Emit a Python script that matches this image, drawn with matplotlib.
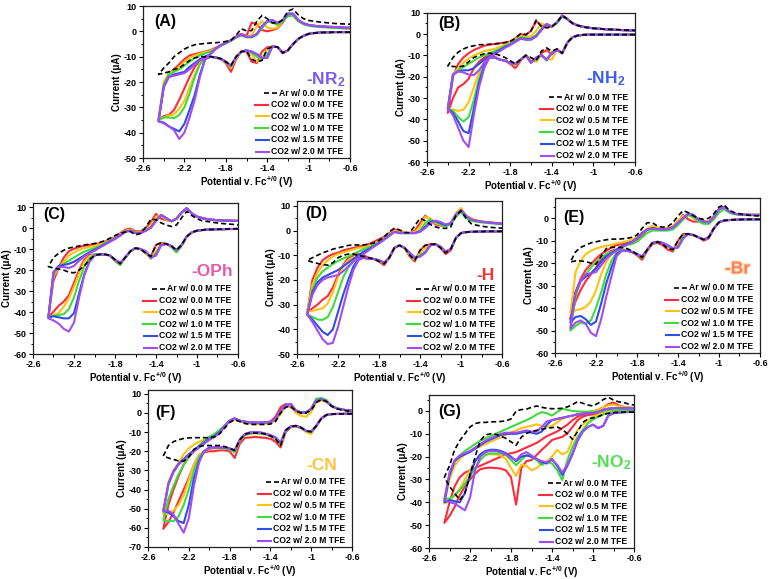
import matplotlib
matplotlib.use("Agg")
import matplotlib.pyplot as plt
import matplotlib.patheffects as pe
from matplotlib.lines import Line2D
from matplotlib.ticker import MultipleLocator

plt.rcParams["font.family"] = ["Liberation Sans", "DejaVu Sans"]
plt.rcParams["font.weight"] = "bold"
plt.rcParams["axes.labelweight"] = "bold"
plt.rcParams["axes.unicode_minus"] = False
plt.rcParams["mathtext.fontset"] = "custom"
plt.rcParams["mathtext.rm"] = "Liberation Sans:bold"
plt.rcParams["mathtext.bf"] = "Liberation Sans:bold"
plt.rcParams["mathtext.it"] = "Liberation Sans:bold"

# ---- potential grids (V vs Fc+/0), cathodic branch turns at the first value
E_45 = [-2.45, -2.40, -2.35, -2.30, -2.25, -2.20, -2.15, -2.10, -2.05, -2.00,
        -1.95, -1.90, -1.85, -1.80, -1.75, -1.70, -1.65, -1.60, -1.55, -1.50,
        -1.45, -1.40, -1.35, -1.30, -1.25, -1.20, -1.15, -1.10, -1.05, -1.00,
        -0.95, -0.90, -0.85, -0.80, -0.75, -0.70, -0.65, -0.60]
E_40 = E_45[1:]
E_50 = [-2.50] + E_45

SERIES_LABELS = ["Ar w/ 0.0 M TFE", "CO2 w/ 0.0 M TFE", "CO2 w/ 0.5 M TFE",
                 "CO2 w/ 1.0 M TFE", "CO2 w/ 1.5 M TFE", "CO2 w/ 2.0 M TFE"]
SERIES_COLORS = ["black", "#ff2b3a", "#ffc20e", "#3ddc3d", "#2e4ee6", "#a24cf5"]
XTICKS = [-2.6, -2.2, -1.8, -1.4, -1.0, -0.6]
XTICKLABELS = ["-2.6", "-2.2", "-1.8", "-1.4", "-1", "-0.6"]

# ---- (A) -NR2   current in uA, LO = cathodic sweep, UP = return sweep
A_AR_LO = [-17, -16.5, -16, -15, -14.5, -13, -11.5, -10.5, -10, -10, -10, -10.3, -10.8, -12, -13.5, -10, -8, -7.8, -11, -12,
           -11.5, -7, -6, -6.2, -8.5, -7.5, -5, -3, -1.8, -1, -0.7, -0.5, -0.4, -0.4, -0.3, -0.3, -0.3, -0.3]
A_AR_UP = [-17, -14.5, -12.5, -10, -8.5, -7, -6, -5.3, -5, -4.8, -4.6, -4.5, -4.3, -4, -3.5, -1.5, 1.0, 0.2, 0.3, 4,
           6.3, 5, 3.3, 3.3, 4.5, 8, 8.8, 6.5, 5, 4.3, 4, 3.7, 3.5, 3.3, 3.1, 3.0, 2.9, 2.8]
A_00_LO = [-35, -33.5, -33, -31, -27, -22.5, -18, -14, -11.5, -10, -10, -10.3, -10.8, -12.5, -16, -11, -8, -8, -12, -12.5,
           -8, -6.3, -6, -6.2, -8.7, -7.5, -5, -3, -1.8, -1, -0.7, -0.5, -0.4, -0.4, -0.3, -0.3, -0.3, -0.3]
A_00_UP = [-35, -22, -16.5, -15, -13, -11, -9.5, -9, -8.5, -8, -7.5, -6.5, -5.5, -4.5, -3.5, -2, -1.0, -1.8, 3.5, 2.8,
           0.5, 0, 0.5, 1.2, 3.5, 6.5, 6.3, 4, 3, 2.5, 2.2, 2, 1.8, 1.6, 1.4, 1.3, 1.2, 1.1]
A_05_LO = [-35, -34, -33.2, -32.8, -30.5, -27.5, -22, -17, -12.5, -10.5, -10, -10.3, -10.8, -12, -14.5, -10.5, -8, -7.8, -9, -12,
           -11, -7, -6, -6.2, -8.5, -7.5, -5, -3, -1.8, -1, -0.7, -0.5, -0.4, -0.4, -0.3, -0.3, -0.3, -0.3]
A_05_UP = [-35, -20, -16.5, -15.5, -14, -12, -10.5, -9.5, -8.8, -8.2, -7.8, -6.8, -5.6, -4.6, -3.6, -2.3, -1.4, -2.2, -1.5, 2,
           4, 1.5, 1.0, 1.5, 4, 6.5, 6.5, 4.2, 3, 2.5, 2.2, 2, 1.8, 1.7, 1.6, 1.5, 1.4, 1.3]
A_10_LO = [-35, -34, -34, -34.3, -33, -30, -24.5, -18, -13, -10.5, -10, -10.3, -10.8, -12, -14, -10, -8, -7.6, -8.5, -10,
           -11, -9, -6, -6.2, -8.5, -7.5, -5, -3, -1.8, -1, -0.7, -0.5, -0.4, -0.4, -0.3, -0.3, -0.3, -0.3]
A_10_UP = [-35, -21, -17, -16, -15, -13.5, -12, -10.5, -9.5, -8.7, -8, -7, -5.8, -4.8, -3.8, -2.5, -1.6, -2.4, -2.4, -1.4,
           1.2, 3.8, 3.5, 2.5, 4, 6, 6.2, 4, 2.8, 2.2, 1.9, 1.7, 1.6, 1.5, 1.4, 1.3, 1.2, 1.2]
A_15_LO = [-35.5, -36, -37.5, -38.5, -39.5, -36.5, -31, -25, -17, -11, -10, -10.3, -10.8, -12, -13.5, -10, -8, -7.5, -8, -9,
           -10.5, -10.5, -6, -6.2, -8.5, -7.5, -5, -3, -1.8, -1, -0.7, -0.5, -0.4, -0.4, -0.3, -0.3, -0.3, -0.3]
A_15_UP = [-35.5, -22, -18, -17, -16.5, -16, -14, -12.5, -11, -10, -9, -7, -5.5, -4.5, -3.5, -2.2, -1.3, -2.2, -2.2, -1,
           2, 4, 4.4, 3.3, 4.5, 7, 7, 4.5, 3.2, 2.5, 2.2, 2, 1.9, 1.8, 1.7, 1.6, 1.5, 1.5]
A_20_LO = [-35.5, -36.3, -37.5, -39, -42.5, -40, -34, -27, -18, -11, -10, -10.3, -10.8, -12, -13.5, -10, -8, -7.5, -8, -9,
           -10.5, -10.5, -6, -6.2, -8.5, -7.5, -5, -3, -1.8, -1, -0.7, -0.5, -0.4, -0.4, -0.3, -0.3, -0.3, -0.3]
A_20_UP = [-35.5, -22, -18, -17.5, -17, -16.5, -15, -13, -11.5, -10.5, -9, -7, -5.5, -4.5, -3.5, -2.2, -1.3, -2.2, -2.2, -1,
           2, 4, 4.4, 3.3, 4.5, 7, 7, 4.5, 3.2, 2.5, 2.2, 2, 1.9, 1.8, 1.7, 1.6, 1.5, 1.5]

# ---- (B) -NH2
B_AR_LO = [-15, -15.2, -15.4, -15, -13, -11, -10, -9.3, -9, -9.2, -10, -11, -12.5, -14, -12, -10, -11, -12.5, -8, -6.5,
           -8, -7, -9, -4, -1.5, -0.7, -0.4, -0.3, -0.3, -0.3, -0.3, -0.3, -0.3, -0.3, -0.3, -0.3, -0.3]
B_AR_UP = [-15, -11, -8.5, -7, -6, -5.5, -5, -5, -4.8, -4.6, -4.4, -4, -3.5, -2, 0.2, -0.3, 1.5, 6.5, 3.5, 3,
           3.4, 5.5, 8.7, 7, 5, 4, 3.4, 3, 2.7, 2.5, 2.3, 2.2, 2.1, 2, 1.9, 1.8, 1.7]
B_00_LO = [-37, -30, -25, -23.5, -21, -16, -13, -11, -10, -10.5, -12, -12.5, -14, -16, -12.5, -10, -12, -12.5, -9, -7.5,
           -9.5, -7, -9, -4, -1.5, -0.7, -0.4, -0.3, -0.3, -0.3, -0.3, -0.3, -0.3, -0.3, -0.3, -0.3, -0.3]
B_00_UP = [-37, -20, -14, -11, -9, -7.5, -6.5, -5.5, -5, -4.7, -4.3, -4, -3.5, -2, 0, -0.5, 1.5, 6, 4, 3,
           3.4, 5.5, 8.7, 7, 5, 4, 3.4, 3, 2.7, 2.5, 2.3, 2.1, 2, 1.9, 1.8, 1.7, 1.6]
B_05_LO = [-35, -35.5, -36, -35.5, -32, -25, -18, -13, -10.5, -11, -12, -12.5, -13.5, -14.5, -12, -10, -12, -13, -10, -11.5,
           -12, -7.5, -9, -4, -1.5, -0.7, -0.4, -0.3, -0.3, -0.3, -0.3, -0.3, -0.3, -0.3, -0.3, -0.3, -0.3]
B_05_UP = [-35, -19, -16, -13.5, -11.5, -10, -9, -8, -7.5, -7, -6, -5, -4, -2.5, -1, -1.5, -1, 1.5, 5, 3.5,
           3.5, 5.5, 8.5, 7, 5, 4, 3.4, 3, 2.7, 2.5, 2.3, 2.1, 2, 1.9, 1.8, 1.7, 1.6]
B_10_LO = [-35, -36, -39, -41, -39, -31, -21, -14, -11, -11, -12, -12.5, -13.5, -14, -12, -10, -13, -12, -9.5, -12.5,
           -8.5, -7.5, -9, -4, -1.5, -0.7, -0.4, -0.3, -0.3, -0.3, -0.3, -0.3, -0.3, -0.3, -0.3, -0.3, -0.3]
B_10_UP = [-35, -19, -17, -15.5, -14, -12.5, -11, -10, -9, -8, -7, -5.5, -4.5, -3, -1.5, -2, -2, -0.5, 2.5, 4.7,
           3.5, 5, 8, 7, 5, 4, 3.4, 3, 2.7, 2.5, 2.3, 2.1, 2, 1.9, 1.8, 1.7, 1.6]
B_15_LO = [-35, -37, -41, -45.5, -46.5, -35, -23, -15, -11, -11, -12, -12.5, -13.5, -14, -12, -10, -13.5, -11, -10, -12,
           -9, -7.5, -9, -4, -1.5, -0.7, -0.4, -0.3, -0.3, -0.3, -0.3, -0.3, -0.3, -0.3, -0.3, -0.3, -0.3]
B_15_UP = [-35, -19, -17.5, -17, -17, -16, -14, -12, -10.5, -9, -7.5, -6, -5, -3.5, -2, -2.5, -2.5, -1, 2, 4.7,
           3.5, 5.5, 8.7, 7, 5, 4, 3.4, 3, 2.7, 2.5, 2.3, 2.1, 2, 1.9, 1.8, 1.7, 1.6]
B_20_LO = [-35, -38, -44, -50, -53, -38, -25, -16, -11, -11, -12, -12.5, -13.5, -14, -12, -10, -13.5, -11, -10, -12,
           -9, -7.5, -9, -4, -1.5, -0.7, -0.4, -0.3, -0.3, -0.3, -0.3, -0.3, -0.3, -0.3, -0.3, -0.3, -0.3]
B_20_UP = [-35, -19, -17.5, -18, -19, -19.3, -17, -13.5, -11, -9.5, -8, -6.5, -5.2, -3.7, -2.2, -2.7, -2.7, -1.2, 1.8, 4.7,
           3.5, 5.5, 8.7, 7, 5, 4, 3.4, 3, 2.7, 2.5, 2.3, 2.1, 2, 1.9, 1.8, 1.7, 1.6]

# ---- (C) -OPh
C_AR_LO = [-18.3, -19, -19.5, -20, -21, -21.3, -20, -18, -15, -13, -12.5, -12.5, -13, -15, -17, -14, -11, -9.5, -10, -12,
           -13.5, -8, -7, -7.5, -8.5, -10.5, -8, -4, -2, -1.2, -0.9, -0.7, -0.6, -0.5, -0.5, -0.4, -0.4, -0.3]
C_AR_UP = [-18.3, -14, -12, -10.5, -9.5, -9, -8.5, -8, -7.7, -7.3, -6.8, -6, -4.8, -3.5, -2.5, -1.8, -1.6, -3.2, -2.5, 0.5,
           4.3, 4, 2.5, 1.5, 0.8, 1.5, 5, 8, 6, 4.5, 3.5, 3.2, 2.8, 2.5, 2.2, 2, 1.8, 1.5]
C_00_LO = [-42.5, -39.8, -37, -35, -32, -26, -20, -15, -13, -12.5, -12.5, -12.5, -13, -15.5, -17.5, -14, -11, -9.5, -10, -12,
           -13.5, -8, -7, -7.5, -8.5, -10.5, -8, -4, -2, -1.2, -0.9, -0.7, -0.6, -0.5, -0.5, -0.4, -0.4, -0.3]
C_00_UP = [-42.5, -25, -19, -14, -11, -9.8, -9, -8.4, -8, -7.6, -7.2, -6.4, -5.4, -4.2, -2.5, -0.7, -0.2, -1.5, -1.5, 0,
           3, 6.8, 4.5, 3.8, 3.3, 4.5, 7.5, 9.5, 7, 5.5, 4.8, 4.3, 4, 3.8, 3.7, 3.6, 3.5, 3.5]
C_05_LO = [-42.5, -41.5, -40.5, -37.5, -33.5, -28, -21.5, -16, -13.5, -12.5, -12.5, -12.5, -13, -15.5, -17.5, -14, -11, -9.5, -10, -12,
           -14.5, -11, -7.5, -7.5, -9, -11.5, -8.5, -4, -2, -1.2, -0.9, -0.7, -0.6, -0.5, -0.5, -0.4, -0.4, -0.3]
C_05_UP = [-42.5, -23, -19, -16, -13, -11.5, -10.3, -9.5, -9, -8.5, -7.7, -6.8, -5.7, -4.5, -3, -1.2, -0.7, -2, -2, -0.8,
           1.5, 5.5, 6, 4, 3.3, 4.5, 7.5, 9.5, 7, 5.5, 4.8, 4.3, 4, 3.8, 3.7, 3.6, 3.5, 3.5]
C_10_LO = [-42.5, -41.8, -41.4, -41, -38.5, -33, -25, -18.5, -14.5, -12.5, -12.5, -12.5, -13, -15.5, -17.5, -14, -11, -9.5, -10, -11.5,
           -14.5, -12, -8, -7.5, -9, -11.5, -8.5, -4, -2, -1.2, -0.9, -0.7, -0.6, -0.5, -0.5, -0.4, -0.4, -0.3]
C_10_UP = [-42.5, -22, -18.5, -17, -15.5, -14, -12.5, -11.2, -10.3, -9.5, -8.5, -7.3, -6, -4.8, -3.3, -1.5, -1, -2.2, -2.2, -1,
           0.5, 4, 6.3, 4.5, 3.3, 4.5, 7.5, 9.3, 7, 5.5, 4.8, 4.3, 4, 3.8, 3.7, 3.6, 3.5, 3.5]
C_15_LO = [-42.5, -42, -42.5, -43, -43, -40.5, -31, -22, -16, -13, -12.5, -12.5, -13, -15, -16.5, -14, -11, -9.5, -10, -11,
           -14, -13, -8, -7.5, -8.5, -10.5, -8, -4, -2, -1.2, -0.9, -0.7, -0.6, -0.5, -0.5, -0.4, -0.4, -0.3]
C_15_UP = [-42.5, -21, -18, -17.5, -17, -16, -14.5, -13, -11.5, -10.3, -9, -7.7, -6.3, -5, -3.5, -1.7, -1.2, -2.3, -2.3, -1.2,
           0.2, 3.5, 6.3, 4.8, 3.3, 4.5, 7.5, 9.5, 7, 5.5, 4.8, 4.3, 4, 3.8, 3.7, 3.6, 3.5, 3.5]
C_20_LO = [-43, -44, -45.5, -48, -49.3, -45, -33, -22.5, -16, -13, -12.5, -12.5, -13, -15, -16.5, -14, -11, -9.5, -10, -11,
           -14, -13, -8, -7.5, -8.5, -10.5, -8, -4, -2, -1.2, -0.9, -0.7, -0.6, -0.5, -0.5, -0.4, -0.4, -0.3]
C_20_UP = [-43, -21, -18.5, -18.5, -19, -18, -15.5, -13.5, -12, -10.8, -9.3, -7.9, -6.5, -5.2, -3.6, -1.8, -1.3, -2.4, -2.4, -1.2,
           0.2, 3.5, 6.3, 4.8, 3.3, 4.5, 7.5, 9.5, 7, 5.5, 4.8, 4.3, 4, 3.8, 3.7, 3.6, 3.5, 3.5]

# ---- (D) -H
D_AR_LO = [-12, -12.8, -13.3, -13.8, -14, -13, -11, -10, -9.5, -9.5, -10, -10.5, -11, -11.5, -12.5, -13.5, -11, -7, -6, -7,
           -10, -12, -8, -6, -5.5, -5.5, -7, -9, -7.5, -3, -1, -0.6, -0.5, -0.4, -0.4, -0.3, -0.3, -0.3, -0.3]
D_AR_UP = [-12, -11, -10, -9, -8.3, -7.5, -7, -6.5, -6, -5.8, -5.8, -5.8, -5.5, -5, -4, -2.5, -0.5, 1, 0.3, -0.8,
           -0.8, 2, 5, 4, 2.5, 1.5, 1, 0.9, 1.5, 6, 8, 5, 2.8, 2.2, 1.8, 1.5, 1.3, 1.1, 1.0]
D_00_LO = [-33, -31.5, -30, -28, -26.5, -23, -18, -14, -11, -10, -9.5, -10, -11, -11.5, -12.5, -14, -11, -7, -6, -7,
           -10.5, -12.5, -8, -6, -5.5, -5.5, -7, -9.5, -8, -3, -1, -0.6, -0.5, -0.4, -0.4, -0.3, -0.3, -0.3, -0.3]
D_00_UP = [-33, -20, -15, -12, -10.5, -9.5, -9, -8, -7.5, -7, -6.5, -6, -5.5, -4.5, -3.5, -2.5, -1, 0.5, 0, -0.8,
           -1, 0, 3, 6, 4.5, 2.5, 2, 2, 3, 6.5, 8.5, 5.5, 4.5, 4, 3.6, 3.4, 3.2, 3, 2.8]
D_05_LO = [-33, -32.5, -32, -31.5, -29.5, -25, -19, -14.5, -12, -11, -10.5, -11, -11.5, -11.5, -12, -13.5, -11, -7, -6, -7,
           -10, -12, -9, -7, -6, -5.5, -6.5, -8.5, -7.5, -3, -1, -0.6, -0.5, -0.4, -0.4, -0.3, -0.3, -0.3, -0.3]
D_05_UP = [-33, -22, -17, -14, -12, -10.5, -9.5, -8.8, -8.2, -7.6, -7, -6.8, -6.2, -5.3, -4.2, -3, -1.5, 0, -0.5, -0.8,
           -1, -0.5, 1.5, 5.5, 5, 3, 2.3, 2, 3, 7, 9.2, 6, 5, 4.2, 3.8, 3.5, 3.3, 3.1, 2.9]
D_10_LO = [-34, -35, -36, -36.2, -35, -31, -25, -19, -15, -12.5, -11, -11, -11.5, -11.5, -12, -13, -11, -7, -6, -7,
           -9.5, -11.5, -10, -8.5, -6, -5.5, -6.5, -8.5, -7.5, -3, -1, -0.6, -0.5, -0.4, -0.4, -0.3, -0.3, -0.3, -0.3]
D_10_UP = [-34, -24, -19, -16.5, -15, -13.5, -12.3, -11.3, -10.5, -9.5, -8.5, -7.5, -6.8, -5.8, -4.6, -3.3, -1.8, -0.5, -1, -1,
           -1, -1, 0, 3, 4.5, 3.5, 2.5, 1.8, 2.5, 5.5, 7.5, 5, 4, 3.6, 3.3, 3.1, 2.9, 2.7, 2.6]
D_15_LO = [-34, -36, -38.5, -41, -42.3, -40, -33, -26, -20, -14.5, -11.5, -11, -11.5, -11.5, -12, -13, -11, -7, -6, -7,
           -9, -11, -10.5, -9, -6, -5.5, -6.5, -8.5, -7.5, -3, -1, -0.6, -0.5, -0.4, -0.4, -0.3, -0.3, -0.3, -0.3]
D_15_UP = [-34, -25, -21, -19, -18, -17, -16, -14.5, -13, -11.5, -10, -8.5, -7.5, -6.3, -5, -3.5, -2, -0.5, -1, -1,
           -1, -1, -0.3, 1.5, 3.5, 4, 3, 2.2, 3, 6.5, 8.3, 6, 4.5, 4, 3.6, 3.4, 3.2, 3, 2.8]
D_20_LO = [-34, -37, -40.5, -44, -46, -45.5, -39, -31, -23, -16, -12, -11, -11.5, -11.5, -12, -13, -11, -7, -6, -7,
           -9, -11, -10.5, -9, -6, -5.5, -6.5, -8.5, -7.5, -3, -1, -0.6, -0.5, -0.4, -0.4, -0.3, -0.3, -0.3, -0.3]
D_20_UP = [-34, -26, -22, -20, -19, -18.5, -18, -16.5, -14.5, -12.5, -11, -9.5, -8, -6.5, -5.2, -3.7, -2.2, -0.5, -1, -1,
           -1, -1, -0.5, 1, 3, 4, 3.5, 2.5, 3, 6.5, 8.3, 6, 4.5, 4, 3.6, 3.4, 3.2, 3, 2.8]

# ---- (E) -Br
E_AR_LO = [-19.5, -19, -19, -19.3, -20, -20.5, -17, -13.5, -13, -13, -13, -13.5, -14.5, -16, -17.5, -14, -11, -10.5, -11.5, -13.5,
           -14, -10, -7, -7, -7.5, -8.5, -9.5, -8.5, -4.5, -1.8, -1, -0.8, -0.7, -0.6, -0.5, -0.5, -0.5, -0.5]
E_AR_UP = [-19.5, -15, -13, -12, -11, -10.5, -10, -9.6, -9.3, -9.3, -9.2, -9, -8.5, -7.5, -4.5, -2, -2, -3.5, -4, -3.7,
           -2, 1, 3.4, 2.5, 1, 0, -0.5, 0, 2, 5, 6, 3.5, 2.5, 2, 1.5, 1.3, 1.1, 1]
E_00_LO = [-45, -37, -32, -28, -25, -22, -18.5, -16, -14.5, -14, -13.8, -14.3, -15, -16.5, -18.5, -14.5, -11.5, -11, -12, -14,
           -14.8, -10, -7, -7, -7.5, -8.5, -10, -9, -4.5, -1.8, -1, -0.8, -0.7, -0.6, -0.5, -0.5, -0.5, -0.5]
E_00_UP = [-45, -33, -27, -23, -20.5, -18, -16, -14.5, -13, -12, -11.5, -11, -10.5, -9.5, -7.5, -5, -4, -4.5, -5, -5,
           -4, -1.5, 1.5, -0.5, -1.5, -1.5, -1.5, -1.5, 1, 4, 5, 3, 2, 1.7, 1.6, 1.5, 1.5, 1.5]
E_05_LO = [-42.5, -41, -40.5, -39.5, -37, -32, -25, -19.5, -16, -14.5, -13.8, -14.3, -15, -16, -17.5, -14, -11, -10.5, -11, -12.5,
           -14, -12, -8, -7, -7.5, -8.5, -9.5, -8.5, -4.5, -1.8, -1, -0.8, -0.7, -0.6, -0.5, -0.5, -0.5, -0.5]
E_05_UP = [-42.5, -24, -19, -16, -14.5, -13.5, -12.8, -12.3, -11.8, -11.2, -10.8, -10.3, -9.5, -8.5, -6.5, -4.5, -3.5, -4, -4.3, -4.3,
           -3.5, -1, 1, 1.5, 0, -1, -1.5, -1.5, 1, 4, 5, 3, 2, 1.7, 1.6, 1.5, 1.5, 1.5]
E_10_LO = [-50, -48, -46.5, -47, -45.5, -40, -33, -25, -19, -15.5, -14, -14.3, -15, -16, -17.5, -14, -11, -10.5, -11, -12.5,
           -14, -12.5, -8, -7, -7.5, -8.5, -9.5, -8.5, -4.5, -1.8, -1, -0.8, -0.7, -0.6, -0.5, -0.5, -0.5, -0.5]
E_10_UP = [-50, -35, -28, -25, -22, -19.5, -17.5, -16, -15, -14, -13, -12, -11.5, -10.5, -8.5, -6.5, -5.5, -5.5, -5.5, -5.5,
           -5, -3, -0.5, 1.5, 0.5, -1.5, -2.5, -2.5, -0.5, 2.5, 4, 2.5, 1.8, 1.5, 1.4, 1.3, 1.3, 1.3]
E_15_LO = [-46.5, -44, -43.5, -45, -47.5, -46, -38, -29, -22, -16, -14.5, -14.5, -15, -16, -17, -14, -11, -10.5, -11, -12,
           -13.5, -13, -9, -7, -7.5, -8.5, -9.5, -8.5, -4.5, -1.8, -1, -0.8, -0.7, -0.6, -0.5, -0.5, -0.5, -0.5]
E_15_UP = [-46.5, -33, -28, -26, -24.5, -22.5, -19.5, -17, -15.5, -14, -12.5, -11.5, -10.5, -9, -6.5, -5, -4.5, -4.8, -5, -4.8,
           -4, -2, 0, 2, 1.5, -0.5, -1.5, -1.8, 0.5, 4, 5, 3, 2, 1.7, 1.6, 1.5, 1.5, 1.5]
E_20_LO = [-49, -46.5, -45.5, -47, -51, -52.5, -45, -35, -26, -17, -14.5, -14.5, -15, -16, -17, -14, -11, -10.5, -11, -12,
           -13.5, -13, -9, -7, -7.5, -8.5, -9.5, -8.5, -4.5, -1.8, -1, -0.8, -0.7, -0.6, -0.5, -0.5, -0.5, -0.5]
E_20_UP = [-49, -33, -28, -25, -24.5, -24, -21, -18, -16, -14.5, -13, -11.8, -10.8, -9.2, -6.8, -5.2, -4.6, -4.9, -5, -4.8,
           -4, -2, 0, 2.2, 1.5, -0.5, -1.5, -1.8, 0.5, 4, 5, 3, 2, 1.7, 1.6, 1.5, 1.5, 1.5]

# ---- (F) -CN
F_AR_LO = [-22.5, -23.5, -24.3, -25, -25.2, -23, -19, -17.5, -17, -17, -17, -17, -17.5, -18.5, -19.5, -14, -11, -10.5, -10.5, -10.5,
           -11, -12, -13.5, -17, -9, -7, -6.7, -7.6, -9.3, -9.8, -6.7, -2.8, -1, -0.6, -0.5, -0.5, -0.4, -0.4]
F_AR_UP = [-22.5, -17, -15, -14, -13.3, -13, -12.9, -12.9, -12.9, -12.9, -12.5, -11, -8, -5, -3.5, -4.5, -5.5, -6, -6, -6,
           -6, -5.8, -4.5, 0, 3, 3.5, 1, 0, 0, 1.5, 5.5, 7, 6, 3.5, 2.2, 1.6, 1.1, 0.8]
F_00_LO = [-60.5, -57, -52, -46, -40, -34, -27, -22, -20.5, -20, -20, -19.5, -19.5, -20, -23.5, -16, -13, -12.8, -12.5, -12.8,
           -13, -13.5, -15, -18, -10, -7.5, -7, -8, -9.5, -10, -6.8, -2.8, -1, -0.6, -0.5, -0.5, -0.4, -0.4]
F_00_UP = [-60.5, -48, -40, -33, -27, -23, -20, -18, -16, -14, -12.5, -10.5, -7, -4.2, -3, -4.2, -4.7, -5, -5.2, -5.2,
           -5, -4.5, -2, 3, 4.7, 3, 0.5, 0, 0.3, 2, 6.5, 7.2, 6, 3.6, 2.4, 1.8, 1.4, 1.2]
F_05_LO = [-53, -52.5, -51, -48, -43, -35, -27, -22, -20, -19, -18.5, -18.5, -18.5, -19, -20.5, -14.5, -11.5, -10.8, -10.5, -10.8,
           -11.2, -12, -13.5, -16.5, -9.5, -7.2, -6.8, -7.8, -10, -11, -7, -2.8, -1, -0.6, -0.5, -0.5, -0.4, -0.4]
F_05_UP = [-53, -36, -30, -26, -21.5, -18.5, -16.5, -15, -14, -13, -12, -10, -7, -4.5, -3.2, -4.5, -5, -5.5, -5.8, -5.8,
           -5.6, -5.2, -4, -0.5, 3.5, 4.2, 0, -1.5, -2, 0.5, 5.5, 6.5, 5.8, 3.5, 2.3, 1.7, 1.3, 1.1]
F_10_LO = [-56, -56.5, -56.5, -54, -48, -40, -30, -23, -20, -18.5, -18, -18, -18.5, -19, -20.5, -14.5, -11.5, -10.8, -10.5, -10.8,
           -11.2, -12, -13.5, -16.5, -9.5, -7.2, -6.8, -7.8, -9.5, -10, -6.8, -2.8, -1, -0.6, -0.5, -0.5, -0.4, -0.4]
F_10_UP = [-56, -45, -38, -32, -27, -23, -20, -17, -14.5, -12.5, -11, -9, -6.5, -4, -3, -4.2, -4.8, -5.2, -5.3, -5.3,
           -5.2, -4.8, -3.5, 0.5, 3.8, 4.5, 1.5, 0.5, 0.5, 2.5, 7.5, 7.8, 6.8, 4, 2.6, 1.9, 1.5, 1.3]
F_15_LO = [-51, -52, -54, -56.5, -57.5, -48, -34, -25, -20, -18, -18, -18, -18, -18.5, -19.5, -14, -11, -10.2, -10, -10.2,
           -10.8, -11.6, -12.8, -15.5, -9, -7, -6.7, -7.6, -9.3, -9.8, -6.7, -2.8, -1, -0.6, -0.5, -0.5, -0.4, -0.4]
F_15_UP = [-51, -37, -30.5, -26.5, -24, -21.5, -19.5, -17.5, -15.5, -13.5, -12, -10, -7, -4, -2.8, -4, -4.5, -4.9, -5, -5,
           -4.9, -4.6, -3.2, 1.2, 4.2, 4.7, 1.2, 0.3, 0.3, 2, 6.5, 7.2, 6, 3.6, 2.4, 1.8, 1.4, 1.2]
F_20_LO = [-51.5, -51, -53, -58, -62.5, -55, -38, -26, -20, -18.5, -18, -18, -18, -18.5, -19.5, -14, -11, -10.2, -10, -10.2,
           -10.8, -11.6, -12.8, -15.5, -9, -7, -6.7, -7.6, -9.3, -9.8, -6.7, -2.8, -1, -0.6, -0.5, -0.5, -0.4, -0.4]
F_20_UP = [-51.5, -37.5, -31, -27, -24.5, -22, -20, -18, -16, -14, -12.5, -10.5, -7, -4, -2.8, -4, -4.5, -4.9, -5, -5,
           -4.9, -4.6, -3.2, 1.2, 4.2, 4.7, 1.2, 0.3, 0.3, 2, 6.5, 7.2, 6, 3.6, 2.4, 1.8, 1.4, 1.2]

# ---- (G) -NO2
G_AR_LO = [-29, -33, -36, -39, -36, -28, -20, -13, -10.5, -10, -10.2, -11, -12, -13.5, -15, -11.5, -9.8, -9, -8.5, -8,
           -7.6, -7.3, -7, -8, -10, -12.4, -9, -5, -3.5, -3, -2.5, -1.5, -1, -0.7, -0.6, -0.5, -0.5, -0.5]
G_AR_UP = [-29, -24, -17, -13, -10, -7, -5.5, -5, -5, -4.8, -4.7, -4.6, -4.3, -3.5, 0, 0.6, 0.8, 1.6, 2.2, 1.6,
           1.2, 1.0, 1.0, 1.2, 1.8, 2.8, 4.1, 3.4, 2.6, 2.2, 3.4, 5, 6, 4.8, 4, 3.7, 3, 2.6]
G_00_LO = [-49, -46, -42, -37, -33, -30, -27.5, -25.5, -25, -24.8, -25, -25.2, -26, -29, -41, -25, -22, -21.5, -19.3, -17,
           -15, -12.7, -12, -11.3, -9.8, -7, -4, -2.5, -1.8, -1.5, -1.2, -1, -0.8, -0.6, -0.5, -0.4, -0.3, -0.3]
G_00_UP = [-49, -40, -33, -29, -27, -26, -25, -24, -23, -22, -21, -20, -19, -18.5, -18, -17, -16, -15, -14, -12.5,
           -11, -10, -9, -7.5, -6, -4, -2.5, -1.5, -0.8, -0.2, 0.5, 1.5, 3, 3.7, 2.5, 1.8, 1.5, 1.3]
G_05_LO = [-40.5, -39.5, -37, -34, -30, -26, -22, -19, -18.5, -19, -19, -19.5, -21, -25, -28.5, -23.5, -24, -26, -25, -23,
           -22, -20, -17, -19, -17.9, -12.7, -8.3, -6, -4, -2.5, -1.5, -1, -0.7, -0.5, -0.4, -0.3, -0.3, -0.3]
G_05_UP = [-40.5, -30, -24, -21, -19, -17.5, -16.5, -15.5, -14.5, -13.5, -12.5, -11.5, -10.5, -9.5, -8.5, -7.5, -7, -6.5, -5.8, -6.5,
           -7, -6.5, -5, -3.5, -2.5, -2, -1.5, -1, -0.5, 0, 0.5, 1.5, 2.5, 2.8, 2.2, 1.8, 1.5, 1.3]
G_10_LO = [-38.5, -38.3, -36.9, -34.7, -31.8, -28.8, -25.2, -21.5, -19.3, -18.6, -18.6, -18.6, -19.3, -21.5, -23.7, -21.5, -19.3, -20, -21.5, -23.7,
           -22.2, -23, -25.9, -30.3, -21.5, -15.7, -11.3, -8.3, -5.4, -3.7, -2.5, -1.5, -1, -0.7, -0.6, -0.5, -0.5, -0.5]
G_10_UP = [-38.5, -28, -22, -19.5, -17.5, -16, -14.5, -13, -12, -11, -10, -9, -8, -7, -6, -5, -4, -3, -1.5, -0.5,
           -1, -2, -0.5, 1, 0.5, 0, -0.2, -0.3, -0.3, -0.3, -0.2, 0, 0.4, 0.4, 0.4, 0.4, 0.4, 0.4]
G_15_LO = [-40, -39, -39.5, -40, -36, -28, -22, -19, -17.5, -17, -17, -17.5, -18.5, -20, -22, -20, -19.5, -20, -21, -22.5,
           -23, -21, -24, -28, -24, -19, -13, -9, -7, -6, -7.5, -6.5, -2, -1, -0.7, -0.5, -0.4, -0.3]
G_15_UP = [-40, -28, -22, -20, -19, -18, -16.5, -15, -13.5, -12.5, -11.5, -10.5, -10, -10, -10, -9.5, -9, -9.5, -10, -9,
           -6, -4, -3.5, -3, -2.5, -2, -1.5, -1.2, -1, -1, -0.5, 0.5, 1, 1.3, 1.3, 1.2, 1.2, 1.2]
G_20_LO = [-39, -40, -40.5, -42, -43.5, -38, -26, -20, -18, -17.5, -17.5, -18, -19, -20.5, -21.5, -19, -18, -19.5, -21, -22,
           -22.5, -21.5, -23.5, -27, -23.5, -18.5, -12.5, -9, -7, -6, -7.5, -6.5, -2, -1, -0.7, -0.5, -0.4, -0.3]
G_20_UP = [-39, -27, -21.5, -19.5, -18.5, -17.5, -16, -14.5, -13, -12, -11, -10, -9.5, -9.5, -9.5, -9, -8.5, -9, -9, -7,
           -4.5, -4, -3.5, -3, -2.5, -2, -1.5, -1.2, -1, -1, -0.5, 0.5, 1, 1.3, 1.3, 1.2, 1.2, 1.2]

PANELS = [
    dict(tag="(A)", sub="-NR$_\\mathbf{2}$", subcol="#7b5cf0", E=E_45, ylim=(-50, 10),
         box=(143, 6, 350, 158), tagpos=(0.053, 0.897), subpos=(0.976, 0.515),
         curves=[(A_AR_LO, A_AR_UP), (A_00_LO, A_00_UP), (A_05_LO, A_05_UP),
                 (A_10_LO, A_10_UP), (A_15_LO, A_15_UP), (A_20_LO, A_20_UP)]),
    dict(tag="(B)", sub="-NH$_\\mathbf{2}$", subcol="#3d5fe6", E=E_40, ylim=(-60, 10),
         box=(427, 12.7, 635, 162), tagpos=(0.053, 0.93), subpos=(0.952, 0.555),
         curves=[(B_AR_LO, B_AR_UP), (B_00_LO, B_00_UP), (B_05_LO, B_05_UP),
                 (B_10_LO, B_10_UP), (B_15_LO, B_15_UP), (B_20_LO, B_20_UP)]),
    dict(tag="(C)", sub="-OPh", subcol="#e85aa5", E=E_45, ylim=(-60, 12),
         box=(33, 203, 238, 354), tagpos=(0.049, 0.925), subpos=(0.976, 0.545),
         curves=[(C_AR_LO, C_AR_UP), (C_00_LO, C_00_UP), (C_05_LO, C_05_UP),
                 (C_10_LO, C_10_UP), (C_15_LO, C_15_UP), (C_20_LO, C_20_UP)]),
    dict(tag="(D)", sub="-H", subcol="#ff3030", E=E_50, ylim=(-50, 12),
         box=(297, 201, 502, 354), tagpos=(0.039, 0.92), subpos=(0.966, 0.511),
         curves=[(D_AR_LO, D_AR_UP), (D_00_LO, D_00_UP), (D_05_LO, D_05_UP),
                 (D_10_LO, D_10_UP), (D_15_LO, D_15_UP), (D_20_LO, D_20_UP)]),
    dict(tag="(E)", sub="-Br", subcol="#ff7b6b", E=E_45, ylim=(-60, 9),
         box=(555, 198, 760, 353), tagpos=(0.039, 0.874), subpos=(0.951, 0.542),
         curves=[(E_AR_LO, E_AR_UP), (E_00_LO, E_00_UP), (E_05_LO, E_05_UP),
                 (E_10_LO, E_10_UP), (E_15_LO, E_15_UP), (E_20_LO, E_20_UP)]),
    dict(tag="(F)", sub="-CN", subcol="#ffc33d", E=E_45, ylim=(-70, 12),
         box=(148, 390, 352, 547), tagpos=(0.034, 0.857), subpos=(0.925, 0.522),
         curves=[(F_AR_LO, F_AR_UP), (F_00_LO, F_00_UP), (F_05_LO, F_05_UP),
                 (F_10_LO, F_10_UP), (F_15_LO, F_15_UP), (F_20_LO, F_20_UP)]),
    dict(tag="(G)", sub="-NO$_\\mathbf{2}$", subcol="#4fe04f", E=E_45, ylim=(-60, 7),
         box=(429, 395, 634, 548), tagpos=(0.044, 0.895), subpos=(0.989, 0.555),
         curves=[(G_AR_LO, G_AR_UP), (G_00_LO, G_00_UP), (G_05_LO, G_05_UP),
                 (G_10_LO, G_10_UP), (G_15_LO, G_15_UP), (G_20_LO, G_20_UP)]),
]

W, H = 770, 579
fig = plt.figure(figsize=(W / 100, H / 100), dpi=100)
fig.patch.set_facecolor("white")

legend_items = []
for p in PANELS:
    l, t, r, b = p["box"]
    ax = fig.add_axes([l / W, 1 - b / H, (r - l) / W, (b - t) / H])
    E = p["E"]
    # colored CO2 runs first, argon reference on top
    for k in [1, 2, 3, 4, 5, 0]:
        lo, up = p["curves"][k]
        assert len(lo) == len(E) and len(up) == len(E), (p["tag"], k)
        x = E[::-1] + E
        y = lo[::-1] + up
        if k == 0:
            ax.plot(x, y, color="black", lw=1.2, ls=(0, (3, 1.8)), zorder=4)
        else:
            ax.plot(x, y, color=SERIES_COLORS[k], lw=1.5, zorder=3,
                    solid_joinstyle="round")

    ax.set_xlim(-2.6, -0.6)
    ax.set_ylim(*p["ylim"])
    ax.set_xticks(XTICKS)
    ax.set_xticklabels(XTICKLABELS)
    ax.xaxis.set_minor_locator(MultipleLocator(0.2))
    ax.yaxis.set_major_locator(MultipleLocator(10))
    ax.yaxis.set_minor_locator(MultipleLocator(5))
    ax.tick_params(which="major", direction="out", length=3, width=0.8,
                   labelsize=6.5, pad=1.5)
    ax.tick_params(which="minor", direction="out", length=1.8, width=0.7)
    for s in ax.spines.values():
        s.set_linewidth(0.9)
        s.set_color("#222222")

    ax.set_ylabel("Current (\u03bcA)", fontsize=7, labelpad=1.5)
    ax.set_xlabel("Potential v. Fc$^{\\mathbf{+/0}}$ (V)", fontsize=7, labelpad=0.6)

    ax.text(p["tagpos"][0], p["tagpos"][1], p["tag"], transform=ax.transAxes,
            fontsize=11.5, fontweight="bold", ha="left", va="center")
    st = ax.text(p["subpos"][0], p["subpos"][1], p["sub"], transform=ax.transAxes,
                 fontsize=12.5, fontweight="bold", color=p["subcol"],
                 ha="right", va="center")
    if p["tag"] == "(E)":
        st.set_path_effects([pe.withStroke(linewidth=1.6, foreground="#ffe3a0")])

    h_px = b - t
    for i, lab in enumerate(SERIES_LABELS):
        yf = (6.5 + 11.7 * (5 - i)) / h_px
        txt = ax.text(0.967, yf, lab, transform=ax.transAxes, ha="right",
                      va="center", fontsize=6.2, fontweight="bold")
        legend_items.append((ax, txt, i, yf))

# legend handles sit just left of each right-aligned entry
fig.canvas.draw()
for ax, txt, i, yf in legend_items:
    bb = txt.get_window_extent()
    inv = ax.transAxes.inverted()
    x_end = inv.transform((bb.x0 - 2.5, 0))[0]
    x_start = inv.transform((bb.x0 - 15.5, 0))[0]
    if i == 0:
        ln = Line2D([x_start, x_end], [yf, yf], transform=ax.transAxes,
                    color="black", lw=1.2, ls=(0, (3, 1.8)))
    else:
        ln = Line2D([x_start, x_end], [yf, yf], transform=ax.transAxes,
                    color=SERIES_COLORS[i], lw=1.5)
    ax.add_line(ln)

fig.savefig("out.png", dpi=100)
